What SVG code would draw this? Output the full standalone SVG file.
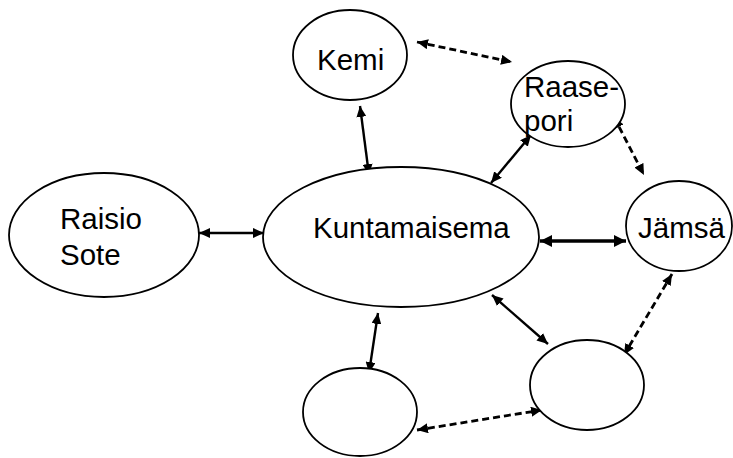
<svg xmlns="http://www.w3.org/2000/svg" width="733" height="458" viewBox="0 0 733 458">
  <style>
    .node ellipse { fill: #ffffff; stroke: #000000; stroke-width: 1.8; }
    .node text { font-family: "Liberation Sans", Arial, sans-serif; font-size: 29.5px; fill: #000000; }
    .link { fill: none; stroke: #000000; stroke-width: 2.4; }
    .link.thick { stroke-width: 3.4; }
    .link.dashed { stroke-width: 2.8; stroke-dasharray: 7 4; }
  </style>
  <defs>
    <marker id="arrow" viewBox="0 0 11 10" refX="11" refY="5" markerWidth="11" markerHeight="10" markerUnits="userSpaceOnUse" orient="auto-start-reverse">
      <path d="M0,0 L11,5 L0,10 Z" fill="#000000"/>
    </marker>
    <marker id="arrow-big" viewBox="0 0 12 12" refX="12" refY="6" markerWidth="12" markerHeight="12" markerUnits="userSpaceOnUse" orient="auto-start-reverse">
      <path d="M0,0 L12,6 L0,12 Z" fill="#000000"/>
    </marker>
  </defs>

  <rect width="733" height="458" fill="#ffffff"/>

  <!-- connectors -->
  <g id="connectors">
    <path class="link" d="M199,233 L264,233" marker-start="url(#arrow)" marker-end="url(#arrow)"/>
    <path class="link" d="M360,106 L369,175" marker-start="url(#arrow)" marker-end="url(#arrow)"/>
    <path class="link" d="M531,135 L491,183" marker-start="url(#arrow)" marker-end="url(#arrow)"/>
    <path class="link thick" d="M540,241 L626,241" marker-start="url(#arrow-big)" marker-end="url(#arrow-big)"/>
    <path class="link" d="M378,313 L369,373" marker-start="url(#arrow)" marker-end="url(#arrow)"/>
    <path class="link" d="M492,295 L548,344" marker-start="url(#arrow)" marker-end="url(#arrow)"/>
    <path class="link dashed" d="M417,42 L512,62" marker-start="url(#arrow)" marker-end="url(#arrow)"/>
    <path class="link dashed" d="M614,117 L644,175" marker-start="url(#arrow)" marker-end="url(#arrow)"/>
    <path class="link dashed" d="M672,274 L624,355" marker-start="url(#arrow)" marker-end="url(#arrow)"/>
    <path class="link dashed" d="M417,430 L542,410" marker-start="url(#arrow)" marker-end="url(#arrow)"/>
  </g>

  <!-- nodes -->
  <g id="kuntamaisema" class="node">
    <ellipse cx="401" cy="237" rx="138" ry="70"/>
    <text x="313" y="238">Kuntamaisema</text>
  </g>
  <g id="kemi" class="node">
    <ellipse cx="350" cy="55" rx="57" ry="45"/>
    <text x="317" y="70">Kemi</text>
  </g>
  <g id="raasepori" class="node">
    <ellipse cx="568" cy="104" rx="57" ry="43"/>
    <text x="524" y="97">Raase-</text>
    <text x="524" y="131">pori</text>
  </g>
  <g id="jamsa" class="node">
    <ellipse cx="679" cy="226" rx="53" ry="45"/>
    <text x="638" y="238">Jämsä</text>
  </g>
  <g id="raisio-sote" class="node">
    <ellipse cx="104" cy="235" rx="95" ry="62"/>
    <text x="60" y="229">Raisio</text>
    <text x="60" y="265">Sote</text>
  </g>
  <g id="empty-left" class="node">
    <ellipse cx="360" cy="412" rx="57" ry="44"/>
  </g>
  <g id="empty-right" class="node">
    <ellipse cx="587" cy="385" rx="57" ry="45"/>
  </g>
</svg>
